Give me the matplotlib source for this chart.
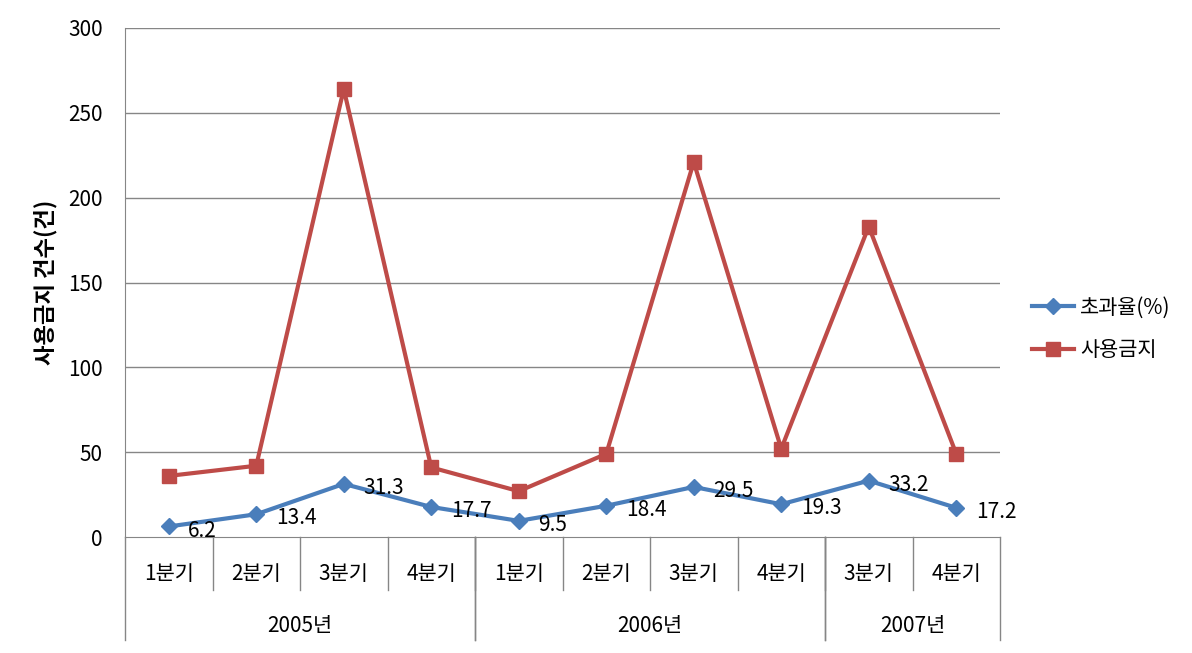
import matplotlib.pyplot as plt
from matplotlib.lines import Line2D

plt.rcParams['font.family'] = ['Noto Sans CJK KR', 'DejaVu Sans']

quarters = ['1분기', '2분기', '3분기', '4분기', '1분기', '2분기', '3분기', '4분기', '3분기', '4분기']
years = ['2005년', '2006년', '2007년']
year_counts = [4, 4, 2]
rate = [6.2, 13.4, 31.3, 17.7, 9.5, 18.4, 29.5, 19.3, 33.2, 17.2]
banned = [36, 42, 264, 41, 27, 49, 221, 52, 183, 49]

blue = '#4a7ebb'
red = '#be4b48'
grid = '#868686'

fig = plt.figure(figsize=(11.92, 6.53), dpi=100)
ax = fig.add_axes([125/1192, 1 - 537/653, 875/1192, 509/653])

x = list(range(len(quarters)))
ax.plot(x, rate, color=blue, lw=3, marker='D', ms=8, label='초과율(%)')
ax.plot(x, banned, color=red, lw=3, marker='s', ms=10, label='사용금지')

for xi, v in zip(x, rate):
    ax.annotate(f'{v}', (xi, v), xytext=(14, -3), textcoords='offset points',
                ha='left', va='center', fontsize=15)

ax.set_xlim(-0.5, len(quarters) - 0.5)
ax.set_ylim(0, 300)
ax.set_yticks(range(0, 301, 50))
ax.tick_params(axis='y', length=0, labelsize=15, pad=16)
ax.set_xticks([])
for y in range(50, 301, 50):
    ax.axhline(y, color=grid, lw=1, zorder=0)
for s in ['top', 'right']:
    ax.spines[s].set_visible(False)
ax.spines['left'].set_color(grid)
ax.spines['bottom'].set_color(grid)
ax.set_ylabel('사용금지 건수(건)', fontsize=16, fontweight='bold', labelpad=8)

# multi-level category axis
tr = ax.get_xaxis_transform()
px = 1 / 509  # one pixel in axes-y units
for i in range(1, len(quarters)):
    ax.plot([i - 0.5, i - 0.5], [0, -53 * px], color=grid, lw=1, transform=tr, clip_on=False)
for xi, q in zip(x, quarters):
    ax.text(xi, -37 * px, q, transform=tr, ha='center', va='center', fontsize=15)
start = 0
for yr, n in zip(years, year_counts):
    for b in (start - 0.5, start + n - 0.5):
        ax.plot([b, b], [0, -103 * px], color=grid, lw=1, transform=tr, clip_on=False)
    ax.text(start + (n - 1) / 2, -89 * px, yr, transform=tr, ha='center', va='center', fontsize=15)
    start += n

handles = [Line2D([], [], color=blue, lw=3, marker='D', ms=8),
           Line2D([], [], color=red, lw=3, marker='s', ms=10)]
fig.legend(handles, ['초과율(%)', '사용금지'], loc='center left',
           bbox_to_anchor=(1024/1192, 1 - 329/653), frameon=False, fontsize=15,
           handlelength=2.0, handletextpad=0.3, labelspacing=1.0, borderaxespad=0)

fig.savefig('out.png', dpi=100)
